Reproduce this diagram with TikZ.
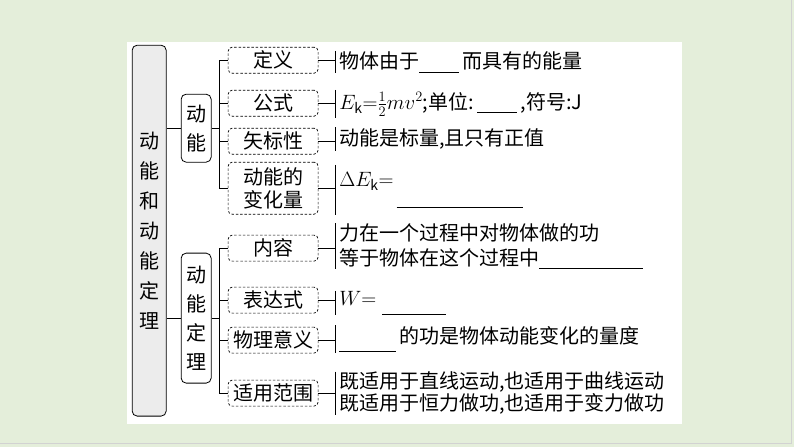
\documentclass[tikz,border=0pt]{standalone}
\usepackage{fontspec}
\setmainfont{Noto Sans CJK SC}
\definecolor{bggreen}{RGB}{228,238,218}
\definecolor{rootgray}{RGB}{236,236,236}
\newcommand{\blank}[2][-4pt]{\rule[#1]{#2}{0.9pt}}
\begin{document}
\begin{tikzpicture}[x=1pt, y=-1pt,
    every node/.style={font=\fontsize{20}{24}\selectfont},
    rootbox/.style={draw, line width=0.8pt, rounded corners=5pt, fill=rootgray,
      minimum width=34pt, minimum height=371pt, inner sep=0pt, align=center,
      font=\fontsize{20}{30}\selectfont},
    midbox/.style={draw, line width=0.8pt, rounded corners=5pt, fill=white,
      minimum width=30pt, inner sep=0pt, align=center,
      font=\fontsize{20}{29}\selectfont},
    leafbox/.style={draw, line width=0.7pt, dash pattern=on 2.5pt off 1.8pt,
      rounded corners=4pt, minimum width=90pt, minimum height=26pt,
      inner xsep=4pt, inner ysep=1pt, align=center,
      font=\fontsize{20}{23}\selectfont},
    desc/.style={anchor=west, align=left, inner xsep=4pt, inner ysep=0pt,
      font=\fontsize{20}{24}\selectfont}]
  % background and panel
  \fill[bggreen] (0,0) rectangle (794,447);
  \draw[gray!35] (791,0) -- (791,443) -- (0,443);
  \fill[white] (127,42) rectangle (682,424);
  \useasboundingbox (0,0) rectangle (794,447);

  \node[rootbox] (root) at (149,230.5) {动\\能\\和\\动\\能\\定\\理};

  \begin{scope}[every node/.style={midbox}]
    \node[minimum height=68pt] (dn) at (196,128) {动\\能};
    \node[minimum height=130pt] (dl) at (196,318) {动\\能\\定\\理};
  \end{scope}

  \begin{scope}[every node/.style={leafbox}]
    \node (dy) at (273,60) {定义};
    \node (gs) at (273,103) {公式};
    \node (bx) at (273,141) {矢标性};
    \node[minimum height=52pt] (bh) at (273,188) {动能的\\变化量};
    \node (nr) at (273,248) {内容};
    \node (bd) at (273,300) {表达式};
    \node (yy) at (273,340) {物理意义};
    \node (fw) at (273,393) {适用范围};
  \end{scope}

  \begin{scope}[every node/.style={desc}]
    \node[minimum height=22pt] (dyt) at (335,62) {物体由于\blank{40pt}\,而具有的能量};
    \node[minimum height=28pt] (gst) at (335,104) {$E_{\mathrm{k}}{=}\frac{1}{2}mv^2$;单位:\,\blank{40pt}\,,符号:J};
    \node[minimum height=23pt] (bxt) at (335,139) {动能是标量,且只有正值};
    \node[minimum height=50pt] (bht) at (335,190) {$\Delta E_{\mathrm{k}}{=}$\hspace{3pt}\blank[-22pt]{127pt}};
    \node[minimum height=40pt, font=\fontsize{20}{25}\selectfont] (nrt) at (335,246) {力在一个过程中对物体做的功\\等于物体在这个过程中\blank{104pt}};
    \node[minimum height=23pt] (bdt) at (335,303) {$W{=}$\hspace{6pt}\blank[-10pt]{64pt}};
    \node[minimum height=27pt] (yyt) at (335,339) {\blank[-8pt]{57pt}\hspace{3pt}的功是物体动能变化的量度};
    \node[minimum height=37pt, font=\fontsize{20}{22}\selectfont] (fwt) at (335,393) {既适用于直线运动,也适用于曲线运动\\既适用于恒力做功,也适用于变力做功};
  \end{scope}

  % branches
  \begin{scope}[line width=0.8pt]
    \draw (root.east |- dn.west) -- (dn.west);
    \draw (root.east |- dl.west) -- (dl.west);
    \draw (dn.east) -- (219,128) coordinate (j1);
    \draw (dl.east) -- (219,318) coordinate (j2);
    \foreach \n in {dy,gs,bx,bh} \draw (\n.west) -| (j1);
    \foreach \n in {nr,bd,yy,fw} \draw (\n.west) -| (j2);
    \foreach \n in {dy,gs,bx,bh,nr,bd,yy,fw} {
      \draw (\n.east) -- (\n.east -| \n t.west);
      \draw (\n t.north west) -- (\n t.south west);
    }
  \end{scope}
\end{tikzpicture}
\end{document}
